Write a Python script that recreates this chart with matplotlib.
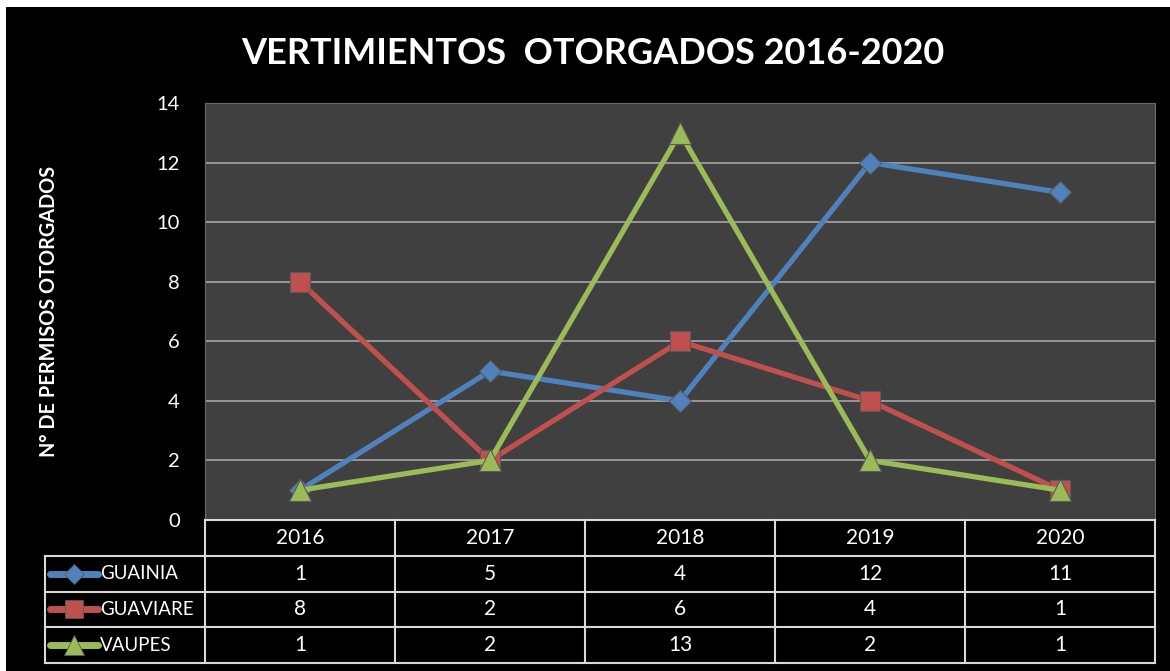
import matplotlib.pyplot as plt
from matplotlib.patches import Rectangle
from matplotlib.lines import Line2D

years = ['2016', '2017', '2018', '2019', '2020']
guainia = [1, 5, 4, 12, 11]
guaviare = [8, 2, 6, 4, 1]
vaupes = [1, 2, 13, 2, 1]

series = [
    ('GUAINIA', guainia, '#4F81BD', 'D', 11),
    ('GUAVIARE', guaviare, '#C0504D', 's', 14),
    ('VAUPES', vaupes, '#9BBB59', '^', 16),
]

plt.rcParams['font.family'] = ['Lato', 'DejaVu Sans']

W, H = 1170, 671
fig = plt.figure(figsize=(W / 100, H / 100), dpi=100, facecolor='white')
fig.patches.append(Rectangle((6 / W, 0), 1 - 6 / W, 1 - 7 / H,
                             transform=fig.transFigure, facecolor='black',
                             edgecolor='none', zorder=-10))

# plot area
x0, x1 = 205, 1155
ytop, ybot = 103, 520
ax = fig.add_axes([x0 / W, 1 - ybot / H, (x1 - x0) / W, (ybot - ytop) / H])
ax.set_facecolor('#404040')
xs = list(range(len(years)))
for name, vals, col, mk, ms in series:
    ax.plot(xs, vals, color=col, lw=3.8, marker=mk, ms=ms,
            markerfacecolor=col, markeredgecolor='#5a5a5a', markeredgewidth=0.8,
            solid_capstyle='round')
ax.set_xlim(-0.5, 4.5)
ax.set_ylim(0, 14)
ax.set_yticks(range(0, 15, 2))
ax.set_xticks([])
ax.grid(axis='y', color='#A6A6A6', lw=1.2)
ax.set_axisbelow(True)
ax.tick_params(axis='y', length=0, pad=18, labelcolor='white', labelsize=14.5)
for s in ax.spines.values():
    s.set_color('#6a6a6a')
ax.set_ylabel('N° DE PERMISOS OTORGADOS', color='white', fontsize=14.3,
              fontweight='bold')
ax.yaxis.set_label_coords((59 - x0) / (x1 - x0), (ybot - 311) / (ybot - ytop))

fig.text(593 / W, 1 - 53 / H, 'VERTIMIENTOS  OTORGADOS 2016-2020',
         color='white', fontsize=26, fontweight='bold', ha='center', va='center')

# data table
tl, tt, tb = 45, 520, 663
label_w = (x0 - tl) / 190
tax = fig.add_axes([tl / W, 1 - tb / H, (x1 - tl) / W, (tb - tt) / H])
tax.set_xlim(-0.5 - label_w, 4.5)
tax.set_ylim(4, 0)
tax.axis('off')
lc = '#D9D9D9'
tax.plot([-0.5, 4.5], [0, 0], color=lc, lw=1.5, clip_on=False)
for r in range(1, 5):
    tax.plot([-0.5 - label_w, 4.5], [r, r], color=lc, lw=1.5, clip_on=False)
tax.plot([-0.5 - label_w] * 2, [1, 4], color=lc, lw=1.5, clip_on=False)
for c in range(6):
    tax.plot([c - 0.5] * 2, [0, 4], color=lc, lw=1.5, clip_on=False)
for c, yr in enumerate(years):
    tax.text(c, 0.5, yr, color='white', fontsize=15, ha='center', va='center')
for r, (name, vals, col, mk, ms) in enumerate(series, start=1):
    kx0 = -0.5 - label_w + 5 / 190
    kx1 = kx0 + 48 / 190
    tax.add_line(Line2D([kx0, kx1], [r + 0.5, r + 0.5], color=col, lw=5,
                        solid_capstyle='round'))
    tax.plot([(kx0 + kx1) / 2], [r + 0.5], marker=mk, ms=ms * 0.9, color=col,
             markeredgecolor='#5a5a5a', markeredgewidth=0.6)
    tax.text(kx1 + 2 / 190, r + 0.5, name, color='white', fontsize=13.5,
             ha='left', va='center')
    for c, v in enumerate(vals):
        tax.text(c, r + 0.5, str(v), color='white', fontsize=15,
                 ha='center', va='center')

fig.savefig('out.png', dpi=100, facecolor=fig.get_facecolor())
